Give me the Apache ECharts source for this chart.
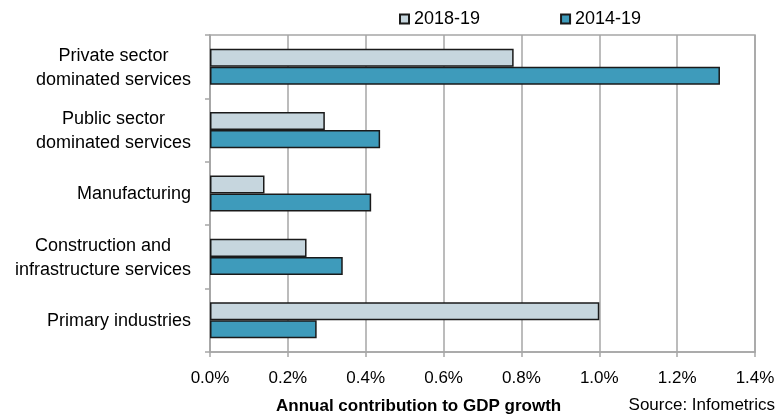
<!DOCTYPE html>
<html>
<head>
<meta charset="utf-8">
<script src="https://cdn.jsdelivr.net/npm/echarts@6/dist/echarts.min.js"></script>
<style>
  html, body { margin: 0; padding: 0; background: #fff; }
  #chart { width: 780px; height: 416px; }
</style>
</head>
<body>
<div id="chart"></div>
<script>
// Sector contributions to annual GDP growth (%)
const categories = [
  'Private sector\ndominated services',
  'Public sector\ndominated services',
  'Manufacturing',
  'Construction and\ninfrastructure services',
  'Primary industries'
];
const seriesNames = ['2018-19', '2014-19'];
const values2018_19 = [0.78, 0.295, 0.14, 0.248, 1.0];
const values2014_19 = [1.31, 0.437, 0.414, 0.341, 0.274];
const xTicks = { min: 0, max: 1.4, step: 0.2 };
const axisTitle = 'Annual contribution to GDP growth';
const sourceNote = 'Source: Infometrics';

const FONT = '"Liberation Sans", Arial, sans-serif';
const GRID_COLOR = '#a6a6a6';

const chart = echarts.init(document.getElementById('chart'), null, { renderer: 'canvas' });

chart.setOption({
  animation: false,
  textStyle: { fontFamily: FONT, color: '#000' },
  legend: {
    data: seriesNames,
    left: 399,
    top: 10,
    padding: 0,
    itemWidth: 9,
    itemHeight: 9,
    itemGap: 80,
    icon: 'rect',
    textStyle: { fontFamily: FONT, fontSize: 18, color: '#000' }
  },
  title: [
    {
      text: axisTitle,
      left: 276,
      top: 398,
      padding: 0,
      textStyle: { fontFamily: FONT, fontSize: 17, fontWeight: 'bold', color: '#000' }
    },
    {
      text: sourceNote,
      right: 5,
      top: 397,
      padding: 0,
      textStyle: { fontFamily: FONT, fontSize: 17, fontWeight: 'normal', color: '#000' }
    }
  ],
  grid: {
    left: 210,
    right: 25,
    top: 35,
    bottom: 64,
    show: true,
    borderColor: GRID_COLOR,
    borderWidth: 1.5,
    containLabel: false
  },
  xAxis: {
    type: 'value',
    min: xTicks.min,
    max: xTicks.max,
    interval: xTicks.step,
    axisLine: { show: true, lineStyle: { color: GRID_COLOR, width: 1.5 } },
    axisTick: { show: true, length: 5, lineStyle: { color: GRID_COLOR, width: 1.5 } },
    splitLine: { show: true, lineStyle: { color: GRID_COLOR, width: 1.5 } },
    axisLabel: {
      margin: 18,
      fontSize: 17,
      color: '#000',
      formatter: v => v.toFixed(1) + '%'
    }
  },
  yAxis: {
    type: 'category',
    inverse: true,
    data: categories,
    axisLine: { show: true, lineStyle: { color: GRID_COLOR, width: 1.5 } },
    axisTick: { show: true, length: 5, lineStyle: { color: GRID_COLOR, width: 1.5 } },
    splitLine: { show: false },
    axisLabel: {
      margin: 19,
      color: '#000',
      formatter: v => v.split('\n').map(s => '{c|' + s + '}').join('\n'),
      rich: {
        c: { align: 'center', fontSize: 18, lineHeight: 24, fontFamily: FONT, color: '#000', padding: [2, 0, 0, 0] }
      }
    }
  },
  series: [
    {
      name: seriesNames[0],
      type: 'bar',
      data: values2018_19,
      barGap: '0%',
      barCategoryGap: '43%',
      itemStyle: { color: '#c6d6de', borderColor: '#1a1a1a', borderWidth: 1.5 }
    },
    {
      name: seriesNames[1],
      type: 'bar',
      data: values2014_19,
      barGap: '0%',
      barCategoryGap: '43%',
      itemStyle: { color: '#3e9bbb', borderColor: '#1a1a1a', borderWidth: 1.5 }
    }
  ]
});
</script>
</body>
</html>
